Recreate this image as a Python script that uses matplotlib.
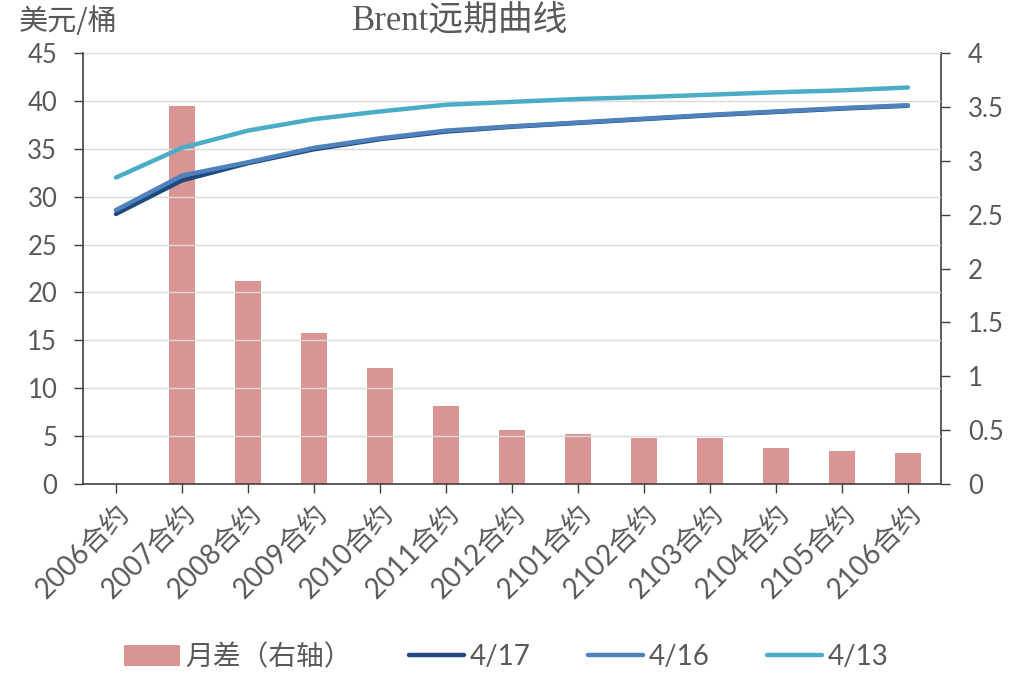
import numpy as np
import matplotlib.pyplot as plt

plt.rcParams['font.family'] = ['Lato', 'Noto Sans CJK SC', 'DejaVu Sans']

contracts = ['2006合约', '2007合约', '2008合约', '2009合约', '2010合约', '2011合约', '2012合约',
             '2101合约', '2102合约', '2103合约', '2104合约', '2105合约', '2106合约']
spread = [0, 3.51, 1.88, 1.40, 1.08, 0.72, 0.50, 0.46, 0.43, 0.43, 0.33, 0.31, 0.29]
curve_0417 = [28.2, 31.7, 33.5, 34.95, 36.0, 36.8, 37.3, 37.7, 38.1, 38.5, 38.85, 39.2, 39.5]
curve_0416 = [28.6, 32.2, 33.6, 35.1, 36.1, 36.9, 37.35, 37.75, 38.15, 38.55, 38.9, 39.25, 39.55]
curve_0413 = [32.0, 35.1, 36.9, 38.1, 38.9, 39.6, 39.9, 40.2, 40.4, 40.65, 40.9, 41.1, 41.4]

grey = '#595959'
x = np.arange(len(contracts))

fig = plt.figure(figsize=(10.23, 6.73), dpi=100)
ax = fig.add_axes([0.0811, 0.2808, 0.8387, 0.6404])
ax2 = ax.twinx()

# bars on the right axis, lines on the left axis drawn above
bars = ax2.bar(x, spread, width=0.4, color='#D99594', label='月差（右轴）', zorder=1)
ax.set_zorder(ax2.get_zorder() + 1)
ax.patch.set_visible(False)

l1, = ax.plot(x, curve_0417, color='#1F497D', lw=3.2, solid_capstyle='round', label='4/17')
l2, = ax.plot(x, curve_0416, color='#4F81BD', lw=3.2, solid_capstyle='round', label='4/16')
l3, = ax.plot(x, curve_0413, color='#4BACC6', lw=3.2, solid_capstyle='round', label='4/13')

ax.set_xlim(-0.5, len(contracts) - 0.5)
ax.set_ylim(0, 45)
ax.set_yticks(np.arange(0, 46, 5))
ax2.set_ylim(0, 4)
ax2.set_yticks([0, 0.5, 1, 1.5, 2, 2.5, 3, 3.5, 4])
ax2.set_yticklabels(['0', '0.5', '1', '1.5', '2', '2.5', '3', '3.5', '4'])

for y in np.arange(5, 46, 5):
    ax.axhline(y, color='#D9D9D9', lw=1, zorder=0)

ax.set_xticks(x)
ax.set_xticklabels(contracts, rotation=45, ha='right', rotation_mode='anchor', fontsize=20)

for a in (ax, ax2):
    a.tick_params(colors=grey, labelsize=18.5, length=6.5, width=1)
    a.tick_params(axis='both', color='#404040')
    for s in a.spines.values():
        s.set_visible(False)
ax.spines['left'].set_visible(True)
ax.spines['bottom'].set_visible(True)
ax2.spines['right'].set_visible(True)
for s in (ax.spines['left'], ax.spines['bottom'], ax2.spines['right']):
    s.set_color('#404040')
    s.set_linewidth(1.2)
ax.tick_params(axis='x', pad=5, labelsize=20)
ax.tick_params(axis='y', pad=12)
ax2.tick_params(axis='y', pad=13)

fig.text(0.018, 0.967, '美元/桶', fontsize=21, color=grey, va='center', ha='left',
         family=['Noto Sans CJK SC'])
fig.text(0.45, 0.967, 'Brent远期曲线', fontsize=25, color=grey, va='center', ha='center',
         family=['Liberation Serif', 'Noto Sans CJK SC'])

fig.legend(handles=[bars, l1, l2, l3], loc='center', bbox_to_anchor=(0.495, 0.024),
           ncol=4, frameon=False, fontsize=20, labelcolor=grey, handlelength=2.0,
           handleheight=0.8, handletextpad=0.2, columnspacing=2.05)

fig.savefig('out.png', dpi=100)
